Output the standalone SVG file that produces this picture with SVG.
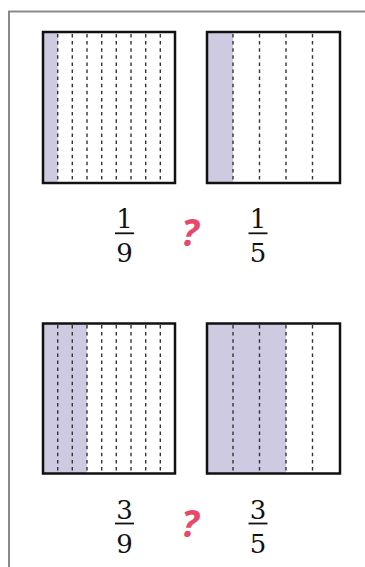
<svg xmlns="http://www.w3.org/2000/svg" width="365" height="567" viewBox="0 0 365 567">
<style>
.frame{fill:none;stroke:#8a8a8a;stroke-width:2}
.box{fill:none;stroke:#111;stroke-width:2.5}
.shade{fill:#cdcae1}
.dash{stroke:#333;stroke-width:1.4;stroke-dasharray:3.5 3.6}
.num{font-family:"DejaVu Serif","Liberation Serif",serif;font-size:26px;fill:#111;text-anchor:middle}
.bar{stroke:#111;stroke-width:1.8}
.q{font-family:"Open Sans","DejaVu Sans",sans-serif;font-weight:bold;font-style:italic;font-size:38px;fill:#e8486c;text-anchor:middle}
</style>
<rect width="365" height="567" fill="#fff"/>
<path class="frame" d="M9,567 V11.5 H365"/>
<g id="box-1-9">
<rect class="shade" x="43" y="32" width="14.7" height="151"/>
<g class="dash">
<line x1="57.7" y1="34" x2="57.7" y2="182"/>
<line x1="72.3" y1="34" x2="72.3" y2="182"/>
<line x1="87" y1="34" x2="87" y2="182"/>
<line x1="101.7" y1="34" x2="101.7" y2="182"/>
<line x1="116.3" y1="34" x2="116.3" y2="182"/>
<line x1="131" y1="34" x2="131" y2="182"/>
<line x1="145.7" y1="34" x2="145.7" y2="182"/>
<line x1="160.3" y1="34" x2="160.3" y2="182"/>
</g>
<rect class="box" x="43" y="32" width="132" height="151"/>
</g>
<g id="box-1-5">
<rect class="shade" x="207" y="32" width="26" height="151"/>
<g class="dash">
<line x1="233" y1="34" x2="233" y2="182"/>
<line x1="259.5" y1="34" x2="259.5" y2="182"/>
<line x1="286" y1="34" x2="286" y2="182"/>
<line x1="312.5" y1="34" x2="312.5" y2="182"/>
</g>
<rect class="box" x="207" y="32" width="133" height="151"/>
</g>
<g id="box-3-9">
<rect class="shade" x="43" y="323.5" width="44" height="150"/>
<g class="dash">
<line x1="57.7" y1="325" x2="57.7" y2="472"/>
<line x1="72.3" y1="325" x2="72.3" y2="472"/>
<line x1="87" y1="325" x2="87" y2="472"/>
<line x1="101.7" y1="325" x2="101.7" y2="472"/>
<line x1="116.3" y1="325" x2="116.3" y2="472"/>
<line x1="131" y1="325" x2="131" y2="472"/>
<line x1="145.7" y1="325" x2="145.7" y2="472"/>
<line x1="160.3" y1="325" x2="160.3" y2="472"/>
</g>
<rect class="box" x="43" y="323.5" width="132" height="150"/>
</g>
<g id="box-3-5">
<rect class="shade" x="207" y="323.5" width="79" height="150"/>
<g class="dash">
<line x1="233" y1="325" x2="233" y2="472"/>
<line x1="259.5" y1="325" x2="259.5" y2="472"/>
<line x1="286" y1="325" x2="286" y2="472"/>
<line x1="312.5" y1="325" x2="312.5" y2="472"/>
</g>
<rect class="box" x="207" y="323.5" width="133" height="150"/>
</g>
<g id="frac-1-9">
<text class="num" x="124.5" y="228">1</text>
<line class="bar" x1="115" y1="233.3" x2="134" y2="233.3"/>
<text class="num" x="124.5" y="262">9</text>
</g>
<g id="q1"><text class="q" x="190" y="246">?</text></g>
<g id="frac-1-5">
<text class="num" x="258" y="228">1</text>
<line class="bar" x1="248.5" y1="233.3" x2="267.5" y2="233.3"/>
<text class="num" x="258" y="262">5</text>
</g>
<g id="frac-3-9">
<text class="num" x="124.5" y="519">3</text>
<line class="bar" x1="115" y1="523.5" x2="134" y2="523.5"/>
<text class="num" x="124.5" y="553">9</text>
</g>
<g id="q2"><text class="q" x="190" y="537">?</text></g>
<g id="frac-3-5">
<text class="num" x="258" y="519">3</text>
<line class="bar" x1="248.5" y1="523.5" x2="267.5" y2="523.5"/>
<text class="num" x="258" y="553">5</text>
</g>
</svg>
